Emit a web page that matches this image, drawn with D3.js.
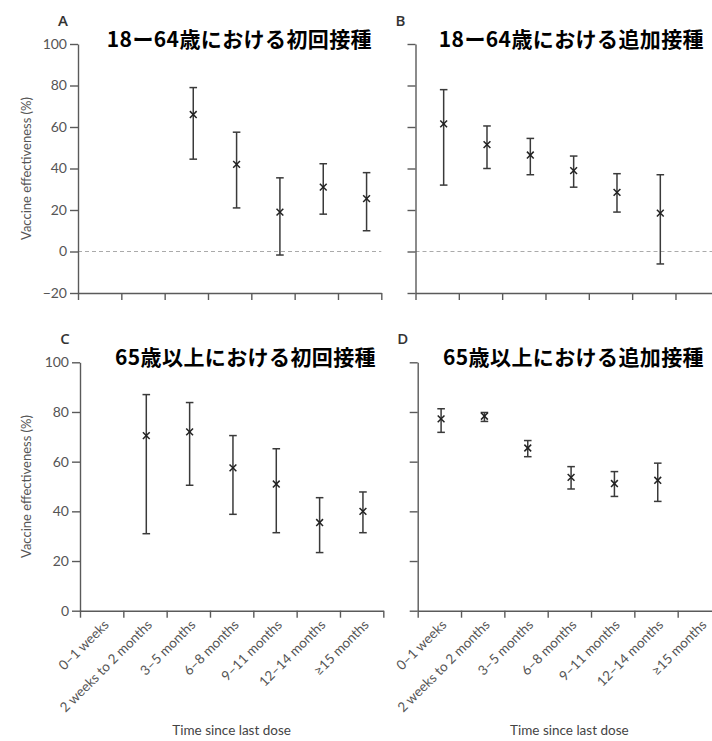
<!DOCTYPE html>
<html>
<head>
<meta charset="utf-8">
<script src="https://cdn.jsdelivr.net/npm/d3@7"></script>
<style>
  body { margin: 0; background: #fff; }
  svg { display: block; }
  .tick text { fill: #555; font-family: Lato, "Open Sans", sans-serif; font-size: 14px; }
  .domain, .tick line { stroke: #5a5a5a; stroke-width: 1.4; }
</style>
</head>
<body>
<div id="chart"></div>
<script>
const categories = ['0–1 weeks', '2 weeks to 2 months', '3–5 months', '6–8 months',
  '9–11 months', '12–14 months', '≥15 months'];

// panel A: 18-64 primary series
const primaryYoungVE = [null, null, 66, 42, 19, 31, 25.5];
const primaryYoungLo = [null, null, 44.5, 21, -1.7, 18, 10];
const primaryYoungHi = [null, null, 79, 57.5, 35.5, 42.3, 38];

// panel B: 18-64 booster
const boosterYoungVE = [61.5, 51.5, 46.5, 39, 28.5, 18.5, null];
const boosterYoungLo = [32, 40, 37, 31, 19, -6, null];
const boosterYoungHi = [78, 60.5, 54.5, 46, 37.5, 37, null];

// panel C: 65+ primary series
const primaryOldVE = [null, 70.5, 72, 57.5, 51, 35.5, 40];
const primaryOldLo = [null, 31, 50.5, 38.8, 31.4, 23.4, 31.4];
const primaryOldHi = [null, 87, 83.8, 70.5, 65.2, 45.5, 47.8];

// panel D: 65+ booster
const boosterOldVE = [77.2, 78.3, 65.5, 53.7, 51.2, 52.5, null];
const boosterOldLo = [71.8, 76.2, 62, 49, 46, 44, null];
const boosterOldHi = [81.3, 79.8, 68.5, 58, 56, 59.4, null];

const yTicksTop = [-20, 0, 20, 40, 60, 80, 100];
const yTicksBottom = [0, 20, 40, 60, 80, 100];

const panelLetters = ['A', 'B', 'C', 'D'];
const panelTitles = ['18ー64歳における初回接種', '18ー64歳における追加接種',
  '65歳以上における初回接種', '65歳以上における追加接種'];

const yLabel = 'Vaccine effectiveness (%)';
const xLabel = 'Time since last dose';

const width = 712;
const height = 741;
const step = 43.33;

const panels = [
  { ve: primaryYoungVE, lo: primaryYoungLo, hi: primaryYoungHi, left: 78, top: 44, bottom: 293,
    domain: [-20, 100], ticks: yTicksTop, yLabels: true, xLabels: false, offset: 0.66, titleEnd: 372 },
  { ve: boosterYoungVE, lo: boosterYoungLo, hi: boosterYoungHi, left: 415.5, top: 44, bottom: 293,
    domain: [-20, 100], ticks: yTicksTop, yLabels: false, xLabels: false, offset: 0.65, titleEnd: 704 },
  { ve: primaryOldVE, lo: primaryOldLo, hi: primaryOldHi, left: 80, top: 362.3, bottom: 610.7,
    domain: [0, 100], ticks: yTicksBottom, yLabels: true, xLabels: true, offset: 0.53, titleEnd: 376 },
  { ve: boosterOldVE, lo: boosterOldLo, hi: boosterOldHi, left: 417.7, top: 362.3, bottom: 610.7,
    domain: [0, 100], ticks: yTicksBottom, yLabels: false, xLabels: true, offset: 0.54, titleEnd: 704 }
];

const svg = d3.select('#chart').append('svg')
  .attr('width', width)
  .attr('height', height);

panels.forEach((p, k) => {
  const g = svg.append('g');

  const x = d3.scaleLinear()
    .domain([0, categories.length])
    .range([p.left, p.left + step * categories.length]);

  const y = d3.scaleLinear()
    .domain(p.domain)
    .range([p.bottom, p.top]);

  // zero reference line
  if (p.domain[0] < 0) {
    g.append('line')
      .attr('x1', x(0))
      .attr('x2', x(categories.length))
      .attr('y1', y(0))
      .attr('y2', y(0))
      .attr('stroke', '#aaa')
      .attr('stroke-width', 1)
      .attr('stroke-dasharray', '4,3');
  }

  g.append('g')
    .attr('transform', 'translate(0,' + p.bottom + ')')
    .call(d3.axisBottom(x)
      .tickValues(d3.range(categories.length + 1))
      .tickFormat('')
      .tickSize(7)
      .tickSizeOuter(0));

  g.append('g')
    .attr('transform', 'translate(' + p.left + ',0)')
    .call(d3.axisLeft(y)
      .tickValues(p.ticks)
      .tickFormat(p.yLabels ? (d => d < 0 ? '−' + Math.abs(d) : d) : '')
      .tickSize(8)
      .tickPadding(3)
      .tickSizeOuter(0));

  if (p.yLabels) {
    g.append('text')
      .attr('transform', 'translate(31,' + (p.top + p.bottom) / 2 + ') rotate(-90)')
      .attr('text-anchor', 'middle')
      .attr('fill', '#555')
      .style('font-family', 'Lato, sans-serif')
      .style('font-size', '13px')
      .text(yLabel);
  }

  if (p.xLabels) {
    g.selectAll('text.cat')
      .data(categories)
      .enter()
      .append('text')
      .attr('class', 'cat')
      .attr('transform', (d, i) => 'translate(' + (x(i + 0.5) + 8) + ',' + (p.bottom + 15) + ') rotate(-45)')
      .attr('text-anchor', 'end')
      .attr('fill', '#555')
      .style('font-family', 'Lato, sans-serif')
      .style('font-size', '13.5px')
      .text(d => d);

    g.append('text')
      .attr('x', x(categories.length / 2))
      .attr('y', 735)
      .attr('text-anchor', 'middle')
      .attr('fill', '#444')
      .style('font-family', 'Lato, sans-serif')
      .style('font-size', '13.5px')
      .text(xLabel);
  }

  // error bars
  const rows = p.ve.map((v, i) => ({ i: i, v: v, lo: p.lo[i], hi: p.hi[i] }))
    .filter(d => d.v !== null);

  const cap = 3.8;
  const mk = 3.4;
  const bars = g.selectAll('g.bar')
    .data(rows)
    .enter()
    .append('g')
    .attr('class', 'bar')
    .attr('stroke', '#3a3a3a')
    .attr('stroke-width', 1.5);

  bars.append('line')
    .attr('x1', d => x(d.i + p.offset))
    .attr('x2', d => x(d.i + p.offset))
    .attr('y1', d => y(d.lo))
    .attr('y2', d => y(d.hi));

  ['lo', 'hi'].forEach(key => {
    bars.append('line')
      .attr('x1', d => x(d.i + p.offset) - cap)
      .attr('x2', d => x(d.i + p.offset) + cap)
      .attr('y1', d => y(d[key]))
      .attr('y2', d => y(d[key]));
  });

  // x markers
  [1, -1].forEach(s => {
    bars.append('line')
      .attr('stroke', '#222')
      .attr('x1', d => x(d.i + p.offset) - mk)
      .attr('x2', d => x(d.i + p.offset) + mk)
      .attr('y1', d => y(d.v) - mk * s)
      .attr('y2', d => y(d.v) + mk * s);
  });

  // panel letter
  g.append('text')
    .attr('x', p.left - 15)
    .attr('y', p.top - 18)
    .attr('text-anchor', 'middle')
    .attr('fill', '#333')
    .style('font-family', '"Open Sans", sans-serif')
    .style('font-weight', 600)
    .style('font-size', '15px')
    .text(panelLetters[k]);

  g.append('text')
    .attr('x', p.titleEnd)
    .attr('y', p.top + 3)
    .attr('text-anchor', 'end')
    .attr('fill', '#000')
    .style('font-family', '"Noto Sans CJK JP", sans-serif')
    .style('font-weight', 700)
    .style('font-size', '21px')
    .style('letter-spacing', '0.4px')
    .text(panelTitles[k]);
});
</script>
</body>
</html>
